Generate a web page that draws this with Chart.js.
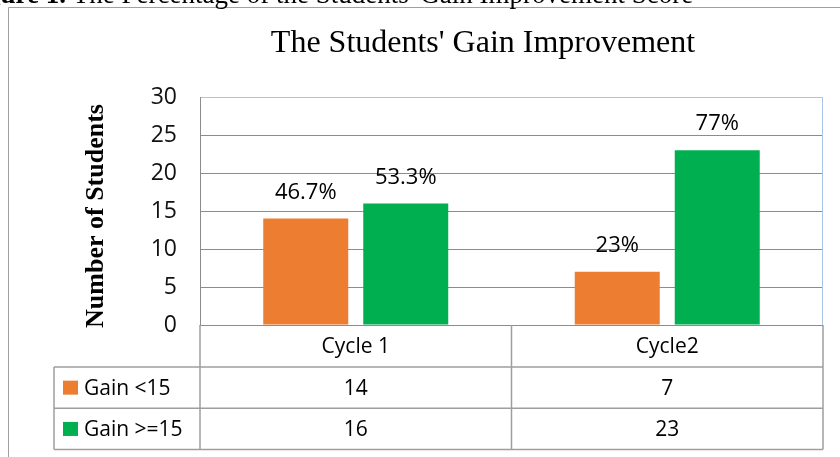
<!DOCTYPE html>
<html>
<head>
<meta charset="utf-8">
<script src="https://cdn.jsdelivr.net/npm/chart.js@4/dist/chart.umd.min.js"></script>
<style>
  html, body { margin: 0; padding: 0; background: #fff; }
  #wrap { position: relative; width: 840px; height: 457px; }
  canvas { display: block; }
</style>
</head>
<body>
<div id="wrap"><canvas id="c" width="840" height="457"></canvas></div>
<script>
// ---- data ----
const categories = ['Cycle 1', 'Cycle2'];
const seriesNames = ['Gain <15', 'Gain >=15'];
const gainBelow15 = [14, 7];
const gainAtLeast15 = [16, 23];
const labelsBelow15 = ['46.7%', '23%'];
const labelsAtLeast15 = ['53.3%', '77%'];
const yTickMin = 0;
const yTickMax = 30;
const yTickStep = 5;
const chartTitle = "The Students' Gain Improvement";
const yAxisTitle = 'Number of Students';
const captionBold = 'Figure 1.';
const captionRest = " The Percentage of the Students' Gain Improvement Score";

const seriesColors = ['#ED7D31', '#00B050'];
const SANS = "'Open Sans', 'Liberation Sans', sans-serif";
const SERIF = "'Liberation Serif', 'DejaVu Serif', serif";

const decorPlugin = {
  id: 'decor',
  beforeDraw(chart) {
    const ctx = chart.ctx;
    ctx.save();
    ctx.fillStyle = '#ffffff';
    ctx.fillRect(0, 0, chart.width, chart.height);
    // outer frame
    ctx.strokeStyle = '#a0a0a0';
    ctx.lineWidth = 1;
    ctx.beginPath();
    ctx.moveTo(8.5, chart.height + 2);
    ctx.lineTo(8.5, 7.5);
    ctx.lineTo(chart.width + 2, 7.5);
    ctx.stroke();
    // caption (cut off at top)
    ctx.fillStyle = '#000';
    ctx.textBaseline = 'alphabetic';
    ctx.textAlign = 'left';
    ctx.font = 'bold 27px ' + SERIF;
    const bw = ctx.measureText(captionBold).width;
    const x0 = 66 - bw;
    ctx.fillText(captionBold, x0, 3);
    ctx.font = '27px ' + SERIF;
    ctx.fillText(captionRest, x0 + bw, 3);
    // title
    ctx.font = '32px ' + SERIF;
    ctx.textAlign = 'center';
    ctx.fillText(chartTitle, 483, 52);
    // y axis title
    ctx.save();
    ctx.translate(103, 216);
    ctx.rotate(-Math.PI / 2);
    ctx.font = 'bold 26px ' + SERIF;
    ctx.textAlign = 'center';
    ctx.textBaseline = 'alphabetic';
    ctx.fillText(yAxisTitle, 0, 0);
    ctx.restore();
    ctx.restore();
  },
  afterDraw(chart) {
    const ctx = chart.ctx;
    const area = chart.chartArea;
    const xs = chart.scales.x;
    ctx.save();
    // right plot border (light blue)
    ctx.strokeStyle = '#a9c5eb';
    ctx.lineWidth = 1;
    ctx.beginPath();
    ctx.moveTo(Math.round(area.right) - 0.5, area.top);
    ctx.lineTo(Math.round(area.right) - 0.5, area.bottom);
    ctx.stroke();

    // value labels above bars
    const labelSets = [labelsBelow15, labelsAtLeast15];
    ctx.fillStyle = '#000';
    ctx.font = '22px ' + SANS;
    ctx.textAlign = 'center';
    ctx.textBaseline = 'middle';
    chart.data.datasets.forEach((ds, di) => {
      const meta = chart.getDatasetMeta(di);
      meta.data.forEach((bar, i) => {
        ctx.fillText(labelSets[di][i], bar.x, bar.y - 26);
      });
    });

    // data table
    const L = 54, C0 = area.left, R = area.right;
    const rowH = 41.3;
    const y0 = area.bottom, y1 = y0 + rowH + 0.7, y2 = y1 + rowH, y3 = y2 + rowH;
    const boundaries = [C0];
    for (let i = 0; i < categories.length; i++) {
      const next = i < categories.length - 1
        ? (xs.getPixelForValue(i) + xs.getPixelForValue(i + 1)) / 2
        : R;
      boundaries.push(next);
    }
    ctx.strokeStyle = '#9e9e9e';
    ctx.lineWidth = 1.5;
    ctx.beginPath();
    ctx.moveTo(L, y1); ctx.lineTo(R, y1);
    ctx.moveTo(L, y2); ctx.lineTo(R, y2);
    ctx.moveTo(L, y3); ctx.lineTo(R, y3);
    ctx.moveTo(L, y1); ctx.lineTo(L, y3);
    boundaries.forEach(b => { ctx.moveTo(b, y0); ctx.lineTo(b, y3); });
    ctx.stroke();

    ctx.fillStyle = '#000';
    ctx.font = '21px ' + SANS;
    ctx.textAlign = 'center';
    ctx.textBaseline = 'middle';
    categories.forEach((c, i) => {
      const cx = xs.getPixelForValue(i);
      ctx.fillText(c, cx, (y0 + y1) / 2 + 1);
    });
    const rows = [gainBelow15, gainAtLeast15];
    const rowMid = [(y1 + y2) / 2, (y2 + y3) / 2];
    rows.forEach((vals, r) => {
      vals.forEach((v, i) => {
        ctx.fillText(String(v), xs.getPixelForValue(i), rowMid[r] + 1);
      });
      ctx.fillStyle = seriesColors[r];
      ctx.fillRect(63, rowMid[r] - 7, 15, 14);
      ctx.fillStyle = '#000';
      ctx.textAlign = 'left';
      ctx.fillText(seriesNames[r], 84, rowMid[r] + 1);
      ctx.textAlign = 'center';
    });
    ctx.restore();
  }
};

new Chart(document.getElementById('c'), {
  type: 'bar',
  data: {
    labels: categories,
    datasets: [
      { label: seriesNames[0], data: gainBelow15, backgroundColor: seriesColors[0],
        categoryPercentage: 0.642, barPercentage: 0.85 },
      { label: seriesNames[1], data: gainAtLeast15, backgroundColor: seriesColors[1],
        categoryPercentage: 0.642, barPercentage: 0.85 }
    ]
  },
  options: {
    responsive: false,
    animation: false,
    events: [],
    layout: { padding: { left: 0, top: 97, right: 17, bottom: 132 } },
    plugins: {
      legend: { display: false },
      title: { display: false },
      tooltip: { enabled: false }
    },
    scales: {
      x: { display: false },
      y: {
        min: yTickMin,
        max: yTickMax,
        ticks: {
          stepSize: yTickStep,
          padding: 23,
          color: '#111',
          font: { family: SANS, size: 23 }
        },
        grid: {
          drawTicks: false,
          color: (c) => (c.tick && c.tick.value === yTickMax) ? '#a9c5eb' : '#8c8c8c',
          lineWidth: 1
        },
        border: { display: true, color: '#8c8c8c', width: 1 },
        afterFit: (scale) => { scale.width = 200; }
      }
    }
  },
  plugins: [decorPlugin]
});
</script>
</body>
</html>
